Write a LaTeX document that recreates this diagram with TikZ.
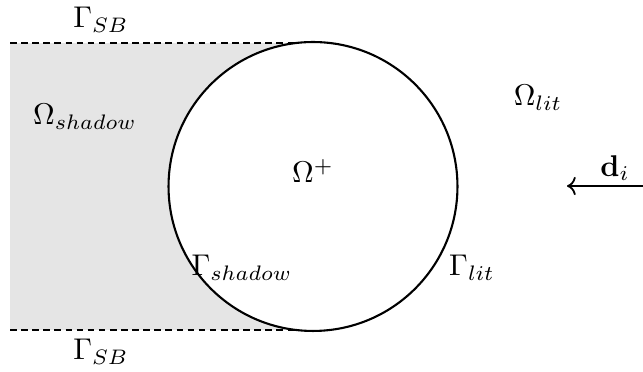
\documentclass[tikz,border=0pt]{standalone}
\usetikzlibrary{arrows.meta}
\begin{document}
\begin{tikzpicture}[x=0.3333pt,y=-0.3333pt,
  lbl/.style={inner sep=0pt,anchor=center},
  sb/.style={draw=black,line width=0.35pt,dash pattern=on 2.2pt off 1.5pt},
  body/.style={circle,draw=black,fill=white,line width=0.7pt,inner sep=0pt,minimum size=96.3pt}]
\useasboundingbox (0,0) rectangle (643,372);
\coordinate (tl) at (10,43);
\coordinate (tr) at (313,43);
\coordinate (bl) at (10,330);
\coordinate (br) at (313,330);
\fill[gray!20] (tl) rectangle (br);
\draw[sb] (tl) -- (tr);
\draw[sb] (bl) -- (br);
\node[body] (C) at (313,186.5) {};
\node[lbl] (gsbt) at (101,20) {$\Gamma_{SB}$};
\node[lbl] (gsbb) at (101,352) {$\Gamma_{SB}$};
\node[lbl] (os) at (85,117) {$\Omega_{shadow}$};
\node[lbl] (op) at (313,171) {$\Omega^{+}$};
\node[lbl] (ol) at (538,98) {$\Omega_{lit}$};
\node[lbl] (gs) at (242,268) {$\Gamma_{shadow}$};
\node[lbl] (gl) at (472,268) {$\Gamma_{lit}$};
\node[lbl] (d) at (615,168) {$\mathbf{d}_i$};
\coordinate (as) at (643,186);
\coordinate (ae) at (567,186);
\draw[->,line width=0.6pt] (as) -- (ae);
\end{tikzpicture}
\end{document}
